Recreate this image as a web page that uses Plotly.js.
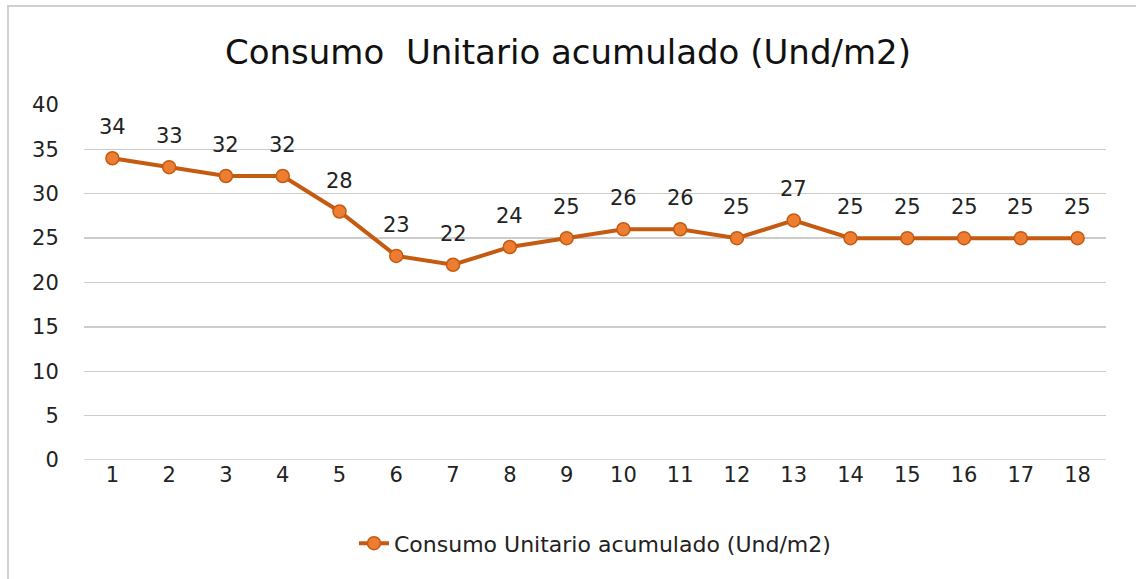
<!DOCTYPE html>
<html><head><meta charset="utf-8">
<script src="https://cdn.plot.ly/plotly-3.0.1.min.js"></script>
<style>html,body{margin:0;padding:0;background:#fff}#c{width:1136px;height:579px}</style>
</head><body><div id="c"></div>
<script>
const periods = [1,2,3,4,5,6,7,8,9,10,11,12,13,14,15,16,17,18];
const consumo = [34,33,32,32,28,23,22,24,25,26,26,25,27,25,25,25,25,25];
const seriesName = 'Consumo Unitario acumulado (Und/m2)';
const yTicks = [0,5,10,15,20,25,30,35,40];

const font = '"DejaVu Sans", Verdana, sans-serif';
const annotations = periods.map((p,i)=>({
  x:p, y:consumo[i], xref:'x', yref:'y', text:String(consumo[i]),
  showarrow:false, yshift:31, font:{family:font,size:21,color:'#222'}
}));

const trace = {
  x: periods, y: consumo, type:'scatter', mode:'lines+markers', name: seriesName,
  line:{color:'#C55A11', width:4},
  marker:{color:'#ED7D31', size:13, line:{color:'#C55A11', width:1.5}}
};

const layout = {
  width:1136, height:579,
  margin:{l:84, r:30, t:105, b:119},
  paper_bgcolor:'#fff', plot_bgcolor:'#fff',
  title:{text:'Consumo&nbsp; Unitario acumulado (Und/m2)', x:0.5, xanchor:'center', y:0.91, yanchor:'middle',
         font:{family:font, size:34, color:'#111'}},
  xaxis:{range:[0.5,18.5], tickvals:periods, ticktext:periods.map(String), showgrid:false, zeroline:false,
         showline:false, ticks:'', tickfont:{family:font,size:21,color:'#222'}, fixedrange:true},
  yaxis:{range:[0,40], tickvals:yTicks, showgrid:true, gridcolor:'#cccccc', gridwidth:1.3, zeroline:false,
         showline:false, ticks:'outside', ticklen:20, tickcolor:'rgba(0,0,0,0)',
         tickfont:{family:font,size:21,color:'#222'}, fixedrange:true},
  showlegend:true,
  legend:{orientation:'h', x:0.5, xanchor:'center', y:-0.235, yanchor:'middle',
          font:{family:font,size:22,color:'#222'}},
  annotations: annotations,
  shapes:[{type:'line', xref:'paper', yref:'y', x0:0, x1:1, y0:0, y1:0, line:{color:'#cccccc', width:1.3}},
          {type:'rect', xref:'paper', yref:'paper', x0:(8-84)/1022, x1:(1140-84)/1022, y0:-0.5, y1:1+(105-6)/355,
           line:{color:'#d0d0d0', width:2}, fillcolor:'rgba(0,0,0,0)', layer:'below'}]
};
Plotly.newPlot('c',[trace],layout,{displayModeBar:false, staticPlot:true});
</script></body></html>
